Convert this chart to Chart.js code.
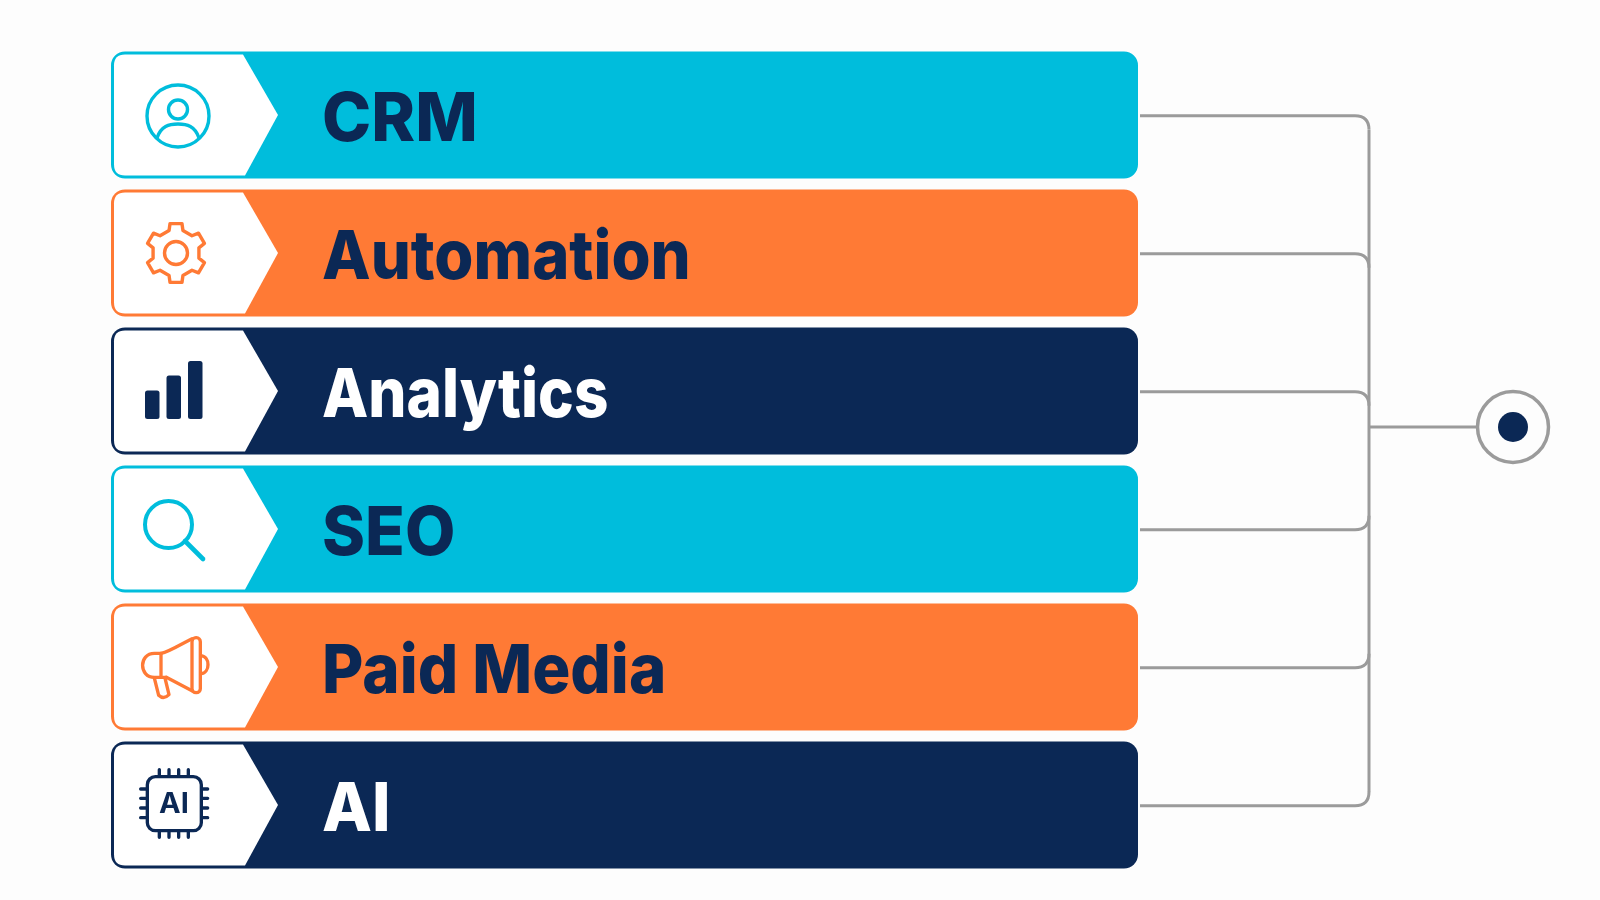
<!DOCTYPE html>
<html><head><meta charset="utf-8">
<style>html,body{margin:0;padding:0;background:#fdfdfd;width:1600px;height:900px;overflow:hidden}canvas{display:block}</style>
<script src="https://cdn.jsdelivr.net/npm/chart.js@4"></script>
</head><body><canvas id="c" width="1600" height="900"></canvas>
<script>
const categories = ['CRM','Automation','Analytics','SEO','Paid Media','AI'];
const barValues = [100,100,100,100,100,100];
const barColors = ['#00bddc','#ff7a35','#0b2855','#00bddc','#ff7a35','#0b2855'];
const labelColors = ['#0b2855','#0b2855','#ffffff','#0b2855','#0b2855','#ffffff'];
const labelWidthScale = [0.975,0.93,0.885,0.96,0.935,0.955];
const iconNames = ['person','gear','bars','search','megaphone','chip'];
const NAVY='#0b2855', GREY='#9b9b9b', BG='#fdfdfd';

const icons = {
  person(ctx){
    ctx.lineWidth=3.4;
    ctx.beginPath();ctx.arc(67,1,31,0,Math.PI*2);ctx.stroke();
    ctx.beginPath();ctx.arc(67,-5.5,9.5,0,Math.PI*2);ctx.stroke();
    ctx.beginPath();ctx.moveTo(46,23);ctx.bezierCurveTo(50,11,58,9,67,9);ctx.bezierCurveTo(76,9,84,11,88,23);ctx.stroke();
  },
  gear(ctx){
    const cx=65,cy=0,n=6,ro=30,ri=23.5,wo=0.2,wi=0.3;
    ctx.lineWidth=3.4;
    ctx.beginPath();
    for(let i=0;i<n;i++){
      const a=-Math.PI/2+i*Math.PI*2/n;
      const pts=[[ri,a-wi],[ro,a-wo],[ro,a+wo],[ri,a+wi]];
      pts.forEach((p,j)=>{const x=cx+p[0]*Math.cos(p[1]),y=cy+p[0]*Math.sin(p[1]);(i===0&&j===0)?ctx.moveTo(x,y):ctx.lineTo(x,y);});
    }
    ctx.closePath();ctx.stroke();
    ctx.beginPath();ctx.arc(cx,cy,11.5,0,Math.PI*2);ctx.stroke();
  },
  bars(ctx){
    [[34,-0.5,14.5,28.5],[55.5,-15.5,14.5,43.5],[77,-30,14.5,58]].forEach(b=>{
      ctx.beginPath();ctx.roundRect(b[0],b[1],b[2],b[3],2.5);ctx.fill();
    });
  },
  search(ctx){
    ctx.lineWidth=4;
    ctx.beginPath();ctx.arc(57.5,-4.5,23.5,0,Math.PI*2);ctx.stroke();
    ctx.beginPath();ctx.moveTo(74,12);ctx.lineTo(92,30);ctx.lineWidth=4.6;ctx.stroke();
  },
  megaphone(ctx){
    ctx.save();ctx.translate(0,-77);ctx.scale(1/3,1/3);ctx.lineWidth=10;
    ctx.translate(-62,0);
    ctx.beginPath();ctx.moveTo(212,190);ctx.bezierCurveTo(240,184,275,160,305,146);ctx.stroke();
    ctx.beginPath();ctx.moveTo(228,262);ctx.lineTo(305,302);ctx.stroke();
    ctx.beginPath();ctx.moveTo(212,190);ctx.lineTo(192,190);ctx.bezierCurveTo(145,190,145,262,192,262);ctx.lineTo(228,262);ctx.stroke();
    ctx.beginPath();ctx.moveTo(212,190);ctx.lineTo(212,262);ctx.stroke();
    ctx.beginPath();ctx.roundRect(305,143,25,165,12);ctx.stroke();
    ctx.beginPath();ctx.moveTo(192,264);ctx.lineTo(205,316);ctx.quadraticCurveTo(220,330,236,314);ctx.lineTo(224,264);ctx.stroke();
    ctx.beginPath();ctx.moveTo(332,197);ctx.bezierCurveTo(360,200,360,248,332,251);ctx.stroke();
    ctx.restore();
  },
  chip(ctx){
    ctx.save();ctx.scale(1/3,1/3);ctx.translate(-63,-643);ctx.lineWidth=10;
    ctx.beginPath();ctx.roundRect(172,558,162,162,24);ctx.stroke();
    [208,237,266,295].forEach(x=>{ctx.beginPath();ctx.moveTo(x,537);ctx.lineTo(x,556);ctx.moveTo(x,722);ctx.lineTo(x,740);ctx.stroke();});
    [595,623,652,681].forEach(y=>{ctx.beginPath();ctx.moveTo(152,y);ctx.lineTo(170,y);ctx.moveTo(336,y);ctx.lineTo(353,y);ctx.stroke();});
    ctx.font='700 87px Inter';ctx.textAlign='center';ctx.textBaseline='alphabetic';
    ctx.fillText('AI',252,668);
    ctx.restore();
  }
};

const overlay = {
  id:'overlay',
  afterDatasetsDraw(chart){
    const {ctx,scales:{x,y}}=chart;
    const meta=chart.getDatasetMeta(0);
    const left=x.getPixelForValue(0), right=x.getPixelForValue(100);
    const trunkX=right+231, hubX=right+375, hubY=427, r=14;
    const centres=categories.map((c,i)=>y.getPixelForValue(i));
    ctx.save();
    ctx.strokeStyle=GREY;ctx.lineWidth=3;ctx.lineCap='butt';ctx.lineJoin='round';
    centres.forEach((cy,i)=>{
      const lineY=cy+0.8;
      const dir=lineY<hubY?1:-1;
      ctx.beginPath();ctx.moveTo(right+2,lineY);ctx.lineTo(trunkX-r,lineY);
      ctx.quadraticCurveTo(trunkX,lineY,trunkX,lineY+dir*r);ctx.stroke();
    });
    ctx.beginPath();ctx.moveTo(trunkX,centres[0]+15);ctx.lineTo(trunkX,centres[5]-13);ctx.stroke();
    ctx.beginPath();ctx.moveTo(trunkX,hubY);ctx.lineTo(hubX-35,hubY);ctx.stroke();
    ctx.lineWidth=3.5;ctx.fillStyle=BG;
    ctx.beginPath();ctx.arc(hubX,hubY,35.5,0,Math.PI*2);ctx.fill();ctx.stroke();
    ctx.fillStyle=NAVY;ctx.beginPath();ctx.arc(hubX,hubY,15,0,Math.PI*2);ctx.fill();
    ctx.restore();
    meta.data.forEach((bar,i)=>{
      const cy=bar.y,h=bar.height,inset=3,top=cy-h/2+inset,bot=cy+h/2-inset,l=left+inset,ra=11;
      ctx.save();
      ctx.fillStyle='#ffffff';
      ctx.beginPath();
      ctx.moveTo(l+ra,top);ctx.lineTo(left+132,top);ctx.lineTo(left+167,cy);ctx.lineTo(left+134,bot);
      ctx.lineTo(l+ra,bot);ctx.quadraticCurveTo(l,bot,l,bot-ra);ctx.lineTo(l,top+ra);ctx.quadraticCurveTo(l,top,l+ra,top);
      ctx.closePath();ctx.fill();
      ctx.translate(left,cy);
      ctx.strokeStyle=barColors[i];ctx.fillStyle=barColors[i];ctx.lineWidth=3.2;ctx.lineCap='round';ctx.lineJoin='round';
      icons[iconNames[i]](ctx);
      ctx.restore();
      ctx.save();
      ctx.translate(left+211,cy+25.5);ctx.scale(labelWidthScale[i],1);
      ctx.fillStyle=labelColors[i];ctx.font='850 68px Inter';ctx.textAlign='left';ctx.textBaseline='alphabetic';
      ctx.fillText(categories[i],0,0);
      ctx.restore();
    });
  }
};

new Chart(document.getElementById('c'),{
  type:'bar',
  data:{labels:categories,datasets:[{data:barValues,backgroundColor:barColors,borderWidth:0,borderSkipped:false,borderRadius:14,barPercentage:0.92,categoryPercentage:1}]},
  options:{
    indexAxis:'y',responsive:false,devicePixelRatio:1,animation:false,
    layout:{padding:{left:111,right:462,top:46,bottom:26}},
    scales:{x:{type:'linear',min:0,max:100,display:false},y:{type:'category',display:false}},
    plugins:{legend:{display:false},tooltip:{enabled:false}}
  },
  plugins:[overlay]
});
</script></body></html>
